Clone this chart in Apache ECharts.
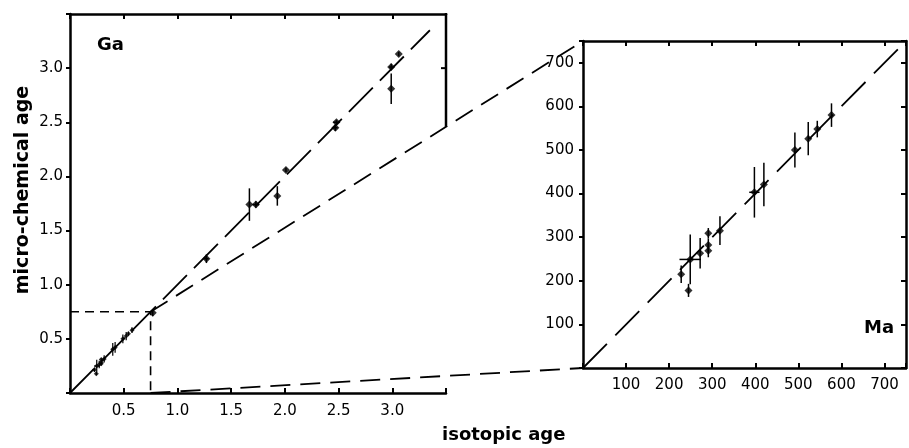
<!DOCTYPE html>
<html>
<head>
<meta charset="utf-8">
<script src="https://cdn.jsdelivr.net/npm/echarts@6/dist/echarts.min.js"></script>
<style>
html,body{margin:0;padding:0;background:#fff;}
#c{width:909px;height:448px;}
</style>
</head>
<body>
<div id="c"></div>
<script>
// ---- Ga panel (large points) ----
const gaX    = [0.77, 1.27, 1.67, 1.73, 1.93, 2.01, 2.47, 2.48, 2.99, 2.99, 3.06];
const gaY    = [0.74, 1.24, 1.74, 1.74, 1.82, 2.06, 2.45, 2.50, 3.01, 2.81, 3.13];
const gaErrY = [0.03, 0.04, 0.15, 0.03, 0.09, 0.02, 0.03, 0.02, 0.03, 0.14, 0.02];
const gaErrX = [0.00, 0.02, 0.00, 0.03, 0.00, 0.00, 0.02, 0.03, 0.02, 0.00, 0.00];
// ---- Ga panel (young cluster, same samples as Ma panel, in Ga) ----
const gaSmallX    = [0.228, 0.245, 0.249, 0.272, 0.291, 0.291, 0.291, 0.318, 0.398, 0.420, 0.492, 0.523, 0.544, 0.577];
const gaSmallY    = [0.215, 0.178, 0.249, 0.263, 0.309, 0.282, 0.269, 0.315, 0.403, 0.421, 0.500, 0.526, 0.548, 0.580];
const gaSmallErrY = [0.020, 0.015, 0.057, 0.035, 0.012, 0.015, 0.015, 0.033, 0.058, 0.050, 0.040, 0.038, 0.019, 0.027];
const gaSmallErrX = [0, 0, 0.025, 0, 0, 0, 0, 0, 0.012, 0, 0, 0, 0, 0];
// ---- Ma panel ----
const maX    = [228, 245, 249, 272, 291, 291, 291, 318, 398, 420, 492, 523, 544, 577];
const maY    = [215, 178, 249, 263, 309, 282, 269, 315, 403, 421, 500, 526, 548, 580];
const maErrY = [20, 15, 57, 35, 12, 15, 15, 33, 58, 50, 40, 38, 19, 27];
const maErrX = [0, 0, 25, 0, 0, 0, 0, 0, 12, 0, 0, 0, 0, 0];
// ---- reference lines / zoom window ----
const gaLine = [[0, 0], [3.35, 3.35]];
const maLine = [[0, 0], [750, 750]];
const zoomLimitGa = 0.75;   // 750 Ma
const zoomLimitMa = 750;
// ---- axes ----
const gaMax = 3.5, gaStep = 0.5;
const maMax = 750, maStep = 100;

const FONT = 'DejaVu Sans';
const black = '#000';

function errData(xs, ys, ey, ex){ return xs.map((x,i)=>[x, ys[i], ey[i], ex[i]]); }
function pts(xs, ys){ return xs.map((x,i)=>[x, ys[i]]); }

function makeErrRender(w){
  return function(params, api){
    const x = api.value(0), y = api.value(1), ey = api.value(2), ex = api.value(3);
    const children = [];
    if (ey > 0){
      const a = api.coord([x, y + ey]), b = api.coord([x, y - ey]);
      children.push({type:'line', shape:{x1:a[0], y1:a[1], x2:b[0], y2:b[1]}, style:{stroke:black, lineWidth:w}});
    }
    if (ex > 0){
      const a = api.coord([x - ex, y]), b = api.coord([x + ex, y]);
      children.push({type:'line', shape:{x1:a[0], y1:a[1], x2:b[0], y2:b[1]}, style:{stroke:black, lineWidth:w}});
    }
    return {type:'group', children};
  };
}

const fmt1 = v => (v <= 0 || v >= gaMax) ? '' : v.toFixed(1);
const fmtMa = v => (v <= 0 || v >= maMax) ? '' : String(v);

const axisLine = {show:true, onZero:false, lineStyle:{color:black, width:2.5}};
const labelStyle = {color:black, fontFamily:FONT, fontSize:15};
const tickIn = {inside:true, length:5, lineStyle:{color:black, width:2}};
const tickOut = {inside:false, length:4, lineStyle:{color:black, width:2}};

const chart = echarts.init(document.getElementById('c'), null, {renderer:'canvas'});
chart.setOption({
  animation:false,
  backgroundColor:'#fff',
  grid:[
    {left:70, top:14, width:376, height:379},
    {left:583, top:41, width:323, height:327}
  ],
  xAxis:[
    {gridIndex:0, type:'value', position:'bottom', min:0, max:gaMax, interval:gaStep,
     axisLine, axisTick:tickIn,
     axisLabel:{...labelStyle, formatter:fmt1, margin:11}, splitLine:{show:false}},
    {gridIndex:0, type:'value', position:'top', min:0, max:gaMax, interval:gaStep,
     axisLine, axisTick:tickIn, axisLabel:{show:false}, splitLine:{show:false}},
    {gridIndex:1, type:'value', position:'bottom', min:0, max:maMax, interval:maStep,
     axisLine, axisTick:tickIn,
     axisLabel:{...labelStyle, formatter:fmtMa, margin:10}, splitLine:{show:false}},
    {gridIndex:1, type:'value', position:'top', min:0, max:maMax, interval:maStep,
     axisLine, axisTick:tickIn, axisLabel:{show:false}, splitLine:{show:false}}
  ],
  yAxis:[
    {gridIndex:0, type:'value', position:'left', min:0, max:gaMax, interval:gaStep,
     axisLine, axisTick:tickOut,
     axisLabel:{...labelStyle, formatter:fmt1, margin:7}, splitLine:{show:false}},
    {gridIndex:1, type:'value', position:'left', min:0, max:maMax, interval:maStep,
     axisLine, axisTick:tickOut,
     axisLabel:{...labelStyle, formatter:fmtMa, margin:9}, splitLine:{show:false}},
    {gridIndex:1, type:'value', position:'right', min:0, max:maMax, interval:maStep,
     axisLine, axisTick:tickIn, axisLabel:{show:false}, splitLine:{show:false}}
  ],
  series:[
    {type:'line', xAxisIndex:0, yAxisIndex:0, data:gaLine, symbol:'none', silent:true,
     lineStyle:{color:black, width:1.8, type:[34,10]}},
    {type:'line', xAxisIndex:0, yAxisIndex:0,
     data:[[0, zoomLimitGa],[zoomLimitGa, zoomLimitGa],[zoomLimitGa, 0]],
     symbol:'none', silent:true, lineStyle:{color:black, width:1.6, type:[9,6]}},
    {type:'custom', xAxisIndex:0, yAxisIndex:0, renderItem:makeErrRender(1.5), silent:true,
     data:errData(gaX, gaY, gaErrY, gaErrX), z:3},
    {type:'custom', xAxisIndex:0, yAxisIndex:0, renderItem:makeErrRender(1.2), silent:true,
     data:errData(gaSmallX, gaSmallY, gaSmallErrY, gaSmallErrX), z:3},
    {type:'scatter', xAxisIndex:0, yAxisIndex:0, data:pts(gaX, gaY), symbol:'diamond',
     symbolSize:8, itemStyle:{color:black}, silent:true, z:4},
    {type:'scatter', xAxisIndex:0, yAxisIndex:0, data:pts(gaSmallX, gaSmallY), symbol:'diamond',
     symbolSize:5, itemStyle:{color:black}, silent:true, z:4},
    {type:'line', xAxisIndex:2, yAxisIndex:1, data:maLine, symbol:'none', silent:true,
     lineStyle:{color:black, width:1.8, type:[34,12]}},
    {type:'custom', xAxisIndex:2, yAxisIndex:1, renderItem:makeErrRender(1.5), silent:true,
     data:errData(maX, maY, maErrY, maErrX), z:3},
    {type:'scatter', xAxisIndex:2, yAxisIndex:1, data:pts(maX, maY), symbol:'diamond',
     symbolSize:8, itemStyle:{color:black}, silent:true, z:4}
  ]
});

// Connector lines and partial right frame, computed from the axes' own scales
const p1 = chart.convertToPixel({gridIndex:0}, [zoomLimitGa, zoomLimitGa]);
const p2 = chart.convertToPixel({gridIndex:1}, [0, zoomLimitMa]);
const p3 = chart.convertToPixel({gridIndex:0}, [zoomLimitGa, 0]);
const p4 = chart.convertToPixel({gridIndex:1}, [0, 0]);
const tr = chart.convertToPixel({gridIndex:0}, [gaMax, gaMax]);
const t3 = chart.convertToPixel({gridIndex:0}, [gaMax, 3.0]);
const tt = (tr[0] - p1[0]) / (p2[0] - p1[0]);
const yCross = p1[1] + tt * (p2[1] - p1[1]);

chart.setOption({
  graphic:[
    {type:'line', shape:{x1:p1[0], y1:p1[1], x2:p2[0], y2:p2[1]},
     style:{stroke:black, lineWidth:1.8, lineDash:[20,10]}, silent:true, z:10},
    {type:'line', shape:{x1:p3[0], y1:p3[1], x2:p4[0], y2:p4[1]},
     style:{stroke:black, lineWidth:1.8, lineDash:[20,10]}, silent:true, z:10},
    {type:'line', shape:{x1:tr[0], y1:tr[1]-1, x2:tr[0], y2:yCross},
     style:{stroke:black, lineWidth:2.5}, silent:true, z:10},
    {type:'line', shape:{x1:tr[0], y1:t3[1], x2:tr[0]-5, y2:t3[1]},
     style:{stroke:black, lineWidth:2}, silent:true, z:10},
    {type:'text', left:97, top:36, silent:true,
     style:{text:'Ga', fill:black, font:'bold 18px "DejaVu Sans"'}},
    {type:'text', left:864, top:319, silent:true,
     style:{text:'Ma', fill:black, font:'bold 18px "DejaVu Sans"'}},
    {type:'text', left:442, top:426, silent:true,
     style:{text:'isotopic age', fill:black, font:'bold 18px "DejaVu Sans"'}},
    {type:'text', x:23, y:190, rotation:Math.PI/2, silent:true,
     style:{text:'micro-chemical age', fill:black, font:'bold 19px "DejaVu Sans"',
            align:'center', verticalAlign:'middle'}}
  ]
});
</script>
</body>
</html>
